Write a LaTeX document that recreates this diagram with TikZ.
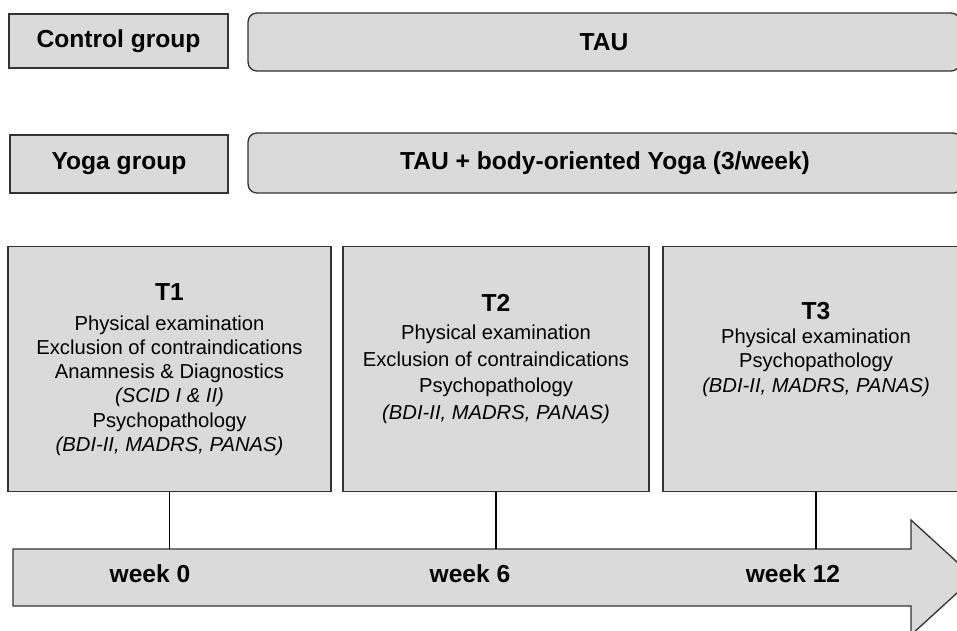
\documentclass[tikz,border=0pt]{standalone}
\usepackage{fontspec}
\setmainfont{Liberation Sans}
\usepackage{xcolor}
\usepackage{tikz}
\usetikzlibrary{positioning, arrows.meta}
\definecolor{boxgray}{RGB}{218,218,218}

\begin{document}
\begin{tikzpicture}[
        x=0.02cm, y=-0.02cm,
        group/.style={draw=black!80, line width=0.75pt, fill=boxgray, font=\fontsize{14}{17}\selectfont\bfseries, inner sep=0pt},
        therapy/.style={group, rounded corners=5pt},
        stage/.style={draw=black!80, line width=0.75pt, fill=boxgray, minimum height=4.9cm, inner sep=0pt},
        stagetext/.style={align=center, font=\fontsize{11.5}{13.8}\selectfont, inner sep=0pt},
        title/.style={font=\fontsize{14}{17}\selectfont\bfseries},
        tick/.style={-, line width=0.8pt, black},
        timeline/.style={draw=black!80, line width=0.75pt, fill=boxgray},
        week/.style={font=\fontsize{14}{17}\selectfont\bfseries, inner sep=0pt}
    ]
    \useasboundingbox (0,0) rectangle (957,630);
    \clip (0,0) rectangle (957,630);

    % Group rows
    \node[group, minimum width=4.38cm, minimum height=1.08cm] (control) at (118.5,41) {Control group};
    \node[therapy, minimum width=14.24cm, minimum height=1.16cm] (tau) at (604,42) {TAU};
    \node[group, minimum width=4.36cm, minimum height=1.16cm] (yoga) at (119,164) {Yoga group};
    \node[therapy, minimum width=14.28cm, minimum height=1.2cm] (tauyoga) at (605,163) {TAU + body-oriented Yoga (3/week)};

    % Measurement boxes
    \node[stage, minimum width=6.46cm] (t1box) at (169.5,369) {};
    \node[stage, minimum width=6.12cm] (t2box) at (496,369) {};
    \node[stage, minimum width=6.12cm] (t3box) at (816,369) {};

    \node[stagetext, below=0.74cm of t1box.north] (t1) {{\fontsize{14}{17}\selectfont\bfseries T1}\\[3.3pt]
        Physical examination\\ Exclusion of contraindications\\ Anamnesis \& Diagnostics\\
        \textit{(SCID I \& II)}\\ Psychopathology\\ \textit{(BDI-II, MADRS, PANAS)}};
    \node[stagetext, font=\fontsize{11.5}{15.2}\selectfont, below=0.96cm of t2box.north] (t2) {{\fontsize{14}{17}\selectfont\bfseries T2}\\[0.7pt]
        Physical examination\\ Exclusion of contraindications\\ Psychopathology\\ \textit{(BDI-II, MADRS, PANAS)}};
    \node[stagetext, below=1.12cm of t3box.north] (t3) {{\fontsize{14}{17}\selectfont\bfseries T3}\\
        Physical examination\\ Psychopathology\\ \textit{(BDI-II, MADRS, PANAS)}};

    % Time arrow
    \coordinate (top) at (13,549);
    \draw[timeline] (top) -- (911,549) -- (911,520) -- (974,577.5) -- (911,635) -- (911,606) -- (13,606) -- cycle;

    \node[week] (week0) at (150,574) {week 0};
    \node[week] (week6) at (470,574) {week 6};
    \node[week] (week12) at (793,574) {week 12};

    % Ticks
    \draw[tick] (t1box.south) -- (t1box.south |- top);
    \draw[tick] (t2box.south) -- (t2box.south |- top);
    \draw[tick] (t3box.south) -- (t3box.south |- top);

\end{tikzpicture}
\end{document}
